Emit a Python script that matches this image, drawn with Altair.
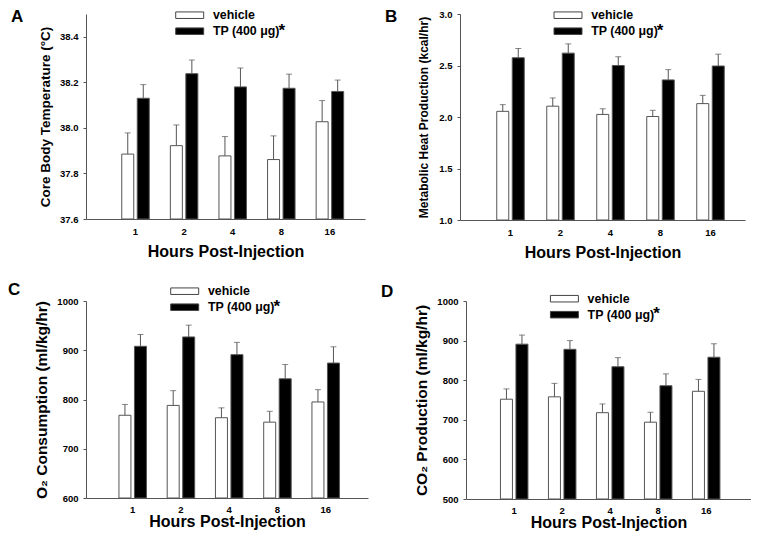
import altair as alt
import pandas as pd

FONT = "Liberation Sans"

hours = ["1", "2", "4", "8", "16"]
groups = ["vehicle", "TP (400 μg)"]

# Panel A: core body temperature (mean, top of SEM bar)
temp_vehicle = [37.885, 37.922, 37.877, 37.861, 38.027]
temp_vehicle_top = [37.978, 38.013, 37.962, 37.965, 38.120]
temp_tp = [38.130, 38.238, 38.180, 38.174, 38.160]
temp_tp_top = [38.190, 38.298, 38.263, 38.236, 38.210]

# Panel B: metabolic heat production
heat_vehicle = [2.055, 2.105, 2.025, 2.005, 2.130]
heat_vehicle_top = [2.120, 2.185, 2.080, 2.065, 2.210]
heat_tp = [2.575, 2.620, 2.500, 2.360, 2.495]
heat_tp_top = [2.665, 2.710, 2.585, 2.460, 2.610]

# Panel C: O2 consumption
o2_vehicle = [768, 788, 763, 754, 795]
o2_vehicle_top = [790, 818, 783, 776, 820]
o2_tp = [908, 927, 891, 842, 874]
o2_tp_top = [932, 951, 916, 871, 907]

# Panel D: CO2 production
co2_vehicle = [752, 758, 718, 694, 772]
co2_vehicle_top = [778, 792, 740, 719, 802]
co2_tp = [891, 878, 834, 786, 858]
co2_tp_top = [914, 900, 857, 816, 892]

LEG_SHAPE = "M-3,-0.7H3V0.7H-3Z"


def panel(letter, veh, veh_top, tp, tp_top, ytitle, ytitle_size, ytitle_pad,
          domain, ticks, fmt, width, height, step, first,
          letter_x, letter_y, leg_x, leg_y, xlab_pad, xtitle_pad):
    df = pd.DataFrame({
        "hour": hours * 2,
        "group": [groups[0]] * len(hours) + [groups[1]] * len(hours),
        "mean": veh + tp,
        "upper": veh_top + tp_top,
    })
    n = len(hours)
    bw = 27.5
    pi = 1 - bw / step
    po = (width / step - (n - pi)) / 2
    al = (first - bw / 2) / (width - step * (n - pi))
    xscale = alt.Scale(domain=hours, paddingInner=pi, paddingOuter=po, align=al)
    xaxis = alt.Axis(title="Hours Post-Injection", labelAngle=0, ticks=False,
                     tickSize=0, labelPadding=xlab_pad, titlePadding=xtitle_pad,
                     titleFontSize=16, labelFontSize=9.5)
    x = alt.X("hour:N", scale=xscale, sort=hours, axis=xaxis)
    xoff = alt.XOffset("group:N", sort=groups,
                       scale=alt.Scale(domain=groups, paddingInner=3.5 / 15.5,
                                       paddingOuter=0))
    yscale = alt.Scale(domain=domain, nice=False, zero=False)
    yaxis = alt.Axis(title=ytitle, values=ticks, format=fmt, tickSize=3,
                     labelPadding=5, titlePadding=ytitle_pad,
                     titleFontSize=ytitle_size, labelFontSize=9.5,
                     labelOverlap=False)
    base = alt.Chart(df)
    bars = base.mark_bar(stroke="#555", strokeWidth=1).encode(
        x=x,
        xOffset=xoff,
        y=alt.Y("mean:Q", scale=yscale, axis=yaxis),
        y2=alt.datum(domain[0]),
        fill=alt.Fill("group:N", sort=groups,
                      scale=alt.Scale(domain=groups, range=["white", "black"]),
                      legend=alt.Legend(title=None, orient="none",
                                        legendX=leg_x, legendY=leg_y,
                                        symbolType=LEG_SHAPE, symbolSize=87,
                                        symbolStrokeColor="#444",
                                        symbolStrokeWidth=1,
                                        labelFont=FONT, labelFontSize=12.4,
                                        labelFontWeight="bold",
                                        labelOffset=17, rowPadding=3,
                                        padding=0)),
    )
    rules = base.mark_rule(color="#555", strokeWidth=1).encode(
        x=x, xOffset=xoff,
        y=alt.Y("mean:Q", scale=yscale, axis=yaxis),
        y2="upper:Q",
    )
    caps = base.mark_tick(color="#555", thickness=1, size=6,
                          orient="horizontal").encode(
        x=x, xOffset=xoff,
        y=alt.Y("upper:Q", scale=yscale, axis=yaxis),
    )
    lab = alt.Chart(pd.DataFrame({"t": [letter]})).mark_text(
        align="left", baseline="top", font=FONT, fontSize=17,
        fontWeight="bold", color="black").encode(
        text="t:N", x=alt.value(letter_x), y=alt.value(letter_y))
    # superscript asterisk following the TP legend label
    star = alt.Chart(pd.DataFrame({"t": ["*"]})).mark_text(
        align="left", baseline="alphabetic", font=FONT, fontSize=17,
        fontWeight="bold", color="black").encode(
        text="t:N", x=alt.value(leg_x + 31 + 64), y=alt.value(leg_y + 26.5))
    return alt.layer(bars, rules, caps, lab, star).properties(
        width=width, height=height)


pA = panel("A", temp_vehicle, temp_vehicle_top, temp_tp, temp_tp_top,
           "Core Body Temperature (°C)", 13.5, 7,
           [37.6, 38.5], [37.6, 37.8, 38.0, 38.2, 38.4], ".1f",
           279, 205, 48.6, 49.5, -75, -5, 97.5, -5, 7, 8)
pB = panel("B", heat_vehicle, heat_vehicle_top, heat_tp, heat_tp_top,
           "Metabolic Heat Production (kcal/hr)", 12, 8,
           [1.0, 3.0], [1.0, 1.5, 2.0, 2.5, 3.0], ".1f",
           285, 206, 50, 50.5, -75, -5, 101.8, -5, 7, 8)
pC = panel("C", o2_vehicle, o2_vehicle_top, o2_tp, o2_tp_top,
           "O₂ Consumption (ml/kg/hr)", 15.5, 7,
           [600, 1000], [600, 700, 800, 900, 1000], "d",
           282, 197, 48.25, 46.7, -78, -19, 92.5, -16, 6, 0)
pD = panel("D", co2_vehicle, co2_vehicle_top, co2_tp, co2_tp_top,
           "CO₂ Production (ml/kg/hr)", 15.5, 7,
           [500, 1000], [500, 600, 700, 800, 900, 1000], "d",
           285, 198, 48.0, 48.2, -85, -17, 92.2, -8.5, 6, 0)

row1 = alt.hconcat(pA, pB, spacing=20).resolve_scale(
    fill="independent").resolve_legend(fill="independent")
row2 = alt.hconcat(pC, pD, spacing=13).resolve_scale(
    fill="independent").resolve_legend(fill="independent")

chart = alt.vconcat(row1, row2, spacing=20).resolve_scale(
    fill="independent").resolve_legend(fill="independent").properties(
    padding=0
).configure_view(stroke=None).configure_axis(
    labelFont=FONT, titleFont=FONT, labelFontWeight="bold",
    titleFontWeight="bold", labelColor="black", titleColor="black",
    domainColor="#555", tickColor="#555", grid=False
)

chart.save("out.html", embed_options={"renderer": "svg", "actions": False})
